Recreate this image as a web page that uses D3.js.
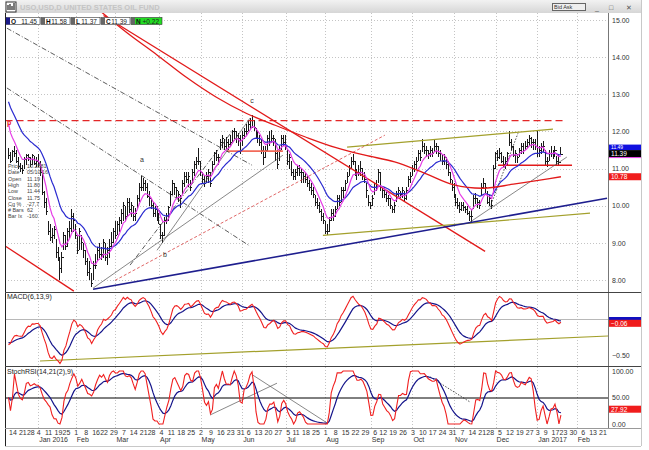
<!DOCTYPE html>
<html>
<head>
<meta charset="utf-8">
<script src="https://cdn.jsdelivr.net/npm/d3@7"></script>
<style>
  body { margin: 0; background: #fff; }
  svg { display: block; font-family: "Liberation Sans", Arial, sans-serif; }
</style>
</head>
<body>
<script>
// USO daily bars, Dec 2015 - Jan 2017, with MAs, MACD and StochRSI panels
const width = 649, height = 450;

// market holidays, to build the trading day calendar
const holidays = ["2015-12-25", "2016-01-01", "2016-01-18", "2016-02-15", "2016-03-25", "2016-05-30",
  "2016-07-04", "2016-09-05", "2016-11-24", "2016-12-26", "2017-01-02", "2017-01-16", "2017-02-20"];

// daily high / low / close, one value per trading day from 2015-12-10
const hi = [
  11.55, 11.45, 11.5, 11.6, 11.5, 11.3, 11.15, 11.1, 11.3, 11.4,
  11.4, 11.3, 11.4, 11.35, 11.3, 11.4, 11.2, 10.85, 10.4, 10.2,
  9.6, 9.5, 9.4, 9.45, 9.1, 8.9, 8.6, 8.75, 9.3, 9.2,
  9.4, 9.6, 9.9, 9.8, 9.5, 9.2, 9.4, 9.2, 9.0, 8.8,
  8.6, 8.5, 8.2, 8.5, 8.7, 8.9, 9.0, 8.9, 9.1, 9.0,
  8.9, 9.1, 9.3, 9.4, 9.6, 9.6, 9.7, 9.9, 10.1, 10.0,
  10.2, 10.2, 10.1, 10.0, 9.95, 10.3, 10.6, 10.8, 10.75, 10.7,
  10.6, 10.4, 10.2, 10.1, 10.0, 10.0, 9.8, 9.5, 9.3, 9.7,
  9.8, 10.0, 10.4, 10.7, 10.6, 10.5, 10.4, 10.3, 10.7, 10.9,
  10.9, 10.9, 10.7, 11.0, 11.2, 11.3, 11.55, 11.2, 10.9, 10.8,
  10.9, 11.0, 10.9, 11.2, 11.45, 11.5, 11.4, 11.8, 11.9, 11.8,
  11.85, 11.8, 11.9, 12.05, 12.1, 12.0, 11.95, 11.9, 12.0, 12.1,
  12.2, 12.3, 12.35, 12.45, 12.3, 12.1, 12.0, 11.9, 11.8, 11.6,
  11.6, 11.9, 12.0, 12.05, 11.9, 11.8, 11.5, 11.6, 11.9, 11.9,
  11.9, 11.5, 11.4, 11.2, 11.0, 11.0, 11.1, 11.1, 11.0, 10.9,
  10.9, 10.8, 10.7, 10.6, 10.5, 10.3, 10.2, 10.1, 9.9, 9.8,
  9.6, 9.5, 9.7, 9.9, 9.9, 10.0, 10.3, 10.3, 10.5, 10.5,
  10.7, 10.9, 11.1, 11.3, 11.4, 11.2, 11.0, 11.1, 11.2, 11.0,
  10.9, 10.6, 10.3, 10.1, 10.3, 10.6, 10.7, 11.0, 10.9, 10.5,
  10.5, 10.4, 10.3, 10.2, 10.0, 10.1, 10.4, 10.5, 10.4, 10.5,
  10.4, 10.5, 10.8, 10.9, 11.1, 11.2, 11.3, 11.5, 11.5, 11.8,
  11.7, 11.6, 11.5, 11.6, 11.55, 11.8, 11.7, 11.6, 11.5, 11.4,
  11.4, 11.3, 11.2, 10.9, 10.7, 10.6, 10.3, 10.2, 10.1, 10.1,
  10.1, 10.0, 10.0, 9.85, 9.9, 10.3, 10.35, 10.2, 10.15, 10.6,
  10.75, 10.6, 10.4, 10.3, 10.15, 11.1, 11.45, 11.5, 11.55, 11.45,
  11.35, 11.3, 11.45, 12.0, 11.8, 11.6, 11.5, 11.4, 11.55, 11.7,
  11.7, 11.75, 11.8, 11.9, 11.85, 11.8, 11.8, 12.05, 11.6, 11.7,
  11.75, 11.5, 11.3, 11.5, 11.6, 11.5, 11.6, 11.35, 11.4, 11.58
];
const lo = [
  11.25, 11.15, 11.2, 11.3, 11.15, 11.0, 10.9, 10.85, 11.0, 11.1,
  11.2, 11.05, 11.1, 11.1, 11.05, 11.05, 10.8, 10.3, 9.95, 9.75,
  9.2, 9.05, 9.0, 9.1, 8.6, 8.5, 8.0, 8.2, 8.8, 8.8,
  8.9, 9.1, 9.3, 9.3, 9.1, 8.7, 8.8, 8.8, 8.6, 8.4,
  8.1, 8.0, 7.8, 8.0, 8.3, 8.5, 8.6, 8.55, 8.6, 8.5,
  8.4, 8.6, 8.9, 9.0, 9.1, 9.2, 9.3, 9.5, 9.6, 9.6,
  9.7, 9.8, 9.7, 9.6, 9.6, 9.9, 10.1, 10.4, 10.4, 10.4,
  10.2, 10.0, 9.9, 9.7, 9.7, 9.6, 9.5, 9.1, 9.0, 9.2,
  9.5, 9.6, 10.0, 10.3, 10.3, 10.2, 10.1, 9.95, 10.3, 10.5,
  10.6, 10.5, 10.4, 10.6, 10.8, 11.0, 11.1, 10.8, 10.6, 10.5,
  10.6, 10.6, 10.5, 10.9, 11.1, 11.2, 11.1, 11.5, 11.55, 11.5,
  11.5, 11.5, 11.6, 11.7, 11.8, 11.7, 11.6, 11.4, 11.6, 11.8,
  11.9, 12.0, 12.05, 12.1, 12.0, 11.8, 11.7, 11.6, 11.4, 11.1,
  11.3, 11.5, 11.6, 11.7, 11.6, 11.2, 11.0, 11.2, 11.5, 11.6,
  11.5, 11.1, 11.0, 10.8, 10.7, 10.7, 10.8, 10.8, 10.6, 10.6,
  10.6, 10.5, 10.4, 10.3, 10.2, 10.0, 9.9, 9.8, 9.6, 9.5,
  9.25, 9.2, 9.3, 9.6, 9.6, 9.7, 9.9, 10.0, 10.1, 10.2,
  10.4, 10.6, 10.8, 11.0, 11.1, 10.8, 10.7, 10.8, 10.8, 10.7,
  10.6, 10.2, 10.0, 9.9, 10.0, 10.3, 10.4, 10.6, 10.4, 10.2,
  10.2, 10.1, 10.0, 9.9, 9.8, 9.8, 10.1, 10.2, 10.2, 10.2,
  10.1, 10.15, 10.5, 10.6, 10.8, 10.9, 11.0, 11.2, 11.2, 11.45,
  11.4, 11.3, 11.25, 11.3, 11.3, 11.45, 11.4, 11.3, 11.2, 11.1,
  11.1, 11.0, 10.8, 10.6, 10.4, 10.2, 10.0, 9.9, 9.8, 9.85,
  9.85, 9.8, 9.75, 9.6, 9.55, 9.9, 10.05, 9.95, 9.9, 10.3,
  10.45, 10.3, 10.05, 10.0, 9.9, 10.4, 11.0, 11.2, 11.25, 11.15,
  11.05, 11.0, 11.1, 11.6, 11.5, 11.3, 11.15, 11.15, 11.3, 11.4,
  11.4, 11.5, 11.55, 11.6, 11.55, 11.5, 11.5, 11.3, 11.3, 11.4,
  11.45, 11.1, 11.05, 11.2, 11.3, 11.25, 11.3, 11.1, 11.1, 11.37
];
const cl = [
  11.35, 11.2, 11.45, 11.4, 11.2, 11.05, 11.0, 10.95, 11.25, 11.35,
  11.3, 11.1, 11.35, 11.15, 11.2, 11.15, 10.9, 10.35, 10.1, 9.85,
  9.3, 9.15, 9.2, 9.35, 8.75, 8.6, 8.3, 8.6, 9.2, 8.9,
  9.3, 9.4, 9.7, 9.6, 9.2, 8.8, 9.3, 9.0, 8.8, 8.5,
  8.2, 8.3, 7.9, 8.4, 8.4, 8.8, 8.7, 8.7, 9.0, 8.6,
  8.8, 8.9, 9.0, 9.3, 9.2, 9.5, 9.6, 9.8, 10.0, 9.7,
  10.1, 9.9, 10.0, 9.7, 9.8, 10.2, 10.5, 10.5, 10.6, 10.5,
  10.25, 10.2, 10.0, 9.8, 9.9, 9.7, 9.5, 9.2, 9.2, 9.6,
  9.6, 9.95, 10.3, 10.6, 10.5, 10.4, 10.3, 10.2, 10.6, 10.8,
  10.7, 10.8, 10.5, 10.9, 11.1, 11.2, 11.2, 10.9, 10.7, 10.6,
  10.8, 10.9, 10.6, 11.1, 11.4, 11.3, 11.3, 11.7, 11.8, 11.6,
  11.7, 11.65, 11.7, 12.0, 12.0, 11.9, 11.8, 11.5, 11.9, 12.0,
  12.0, 12.2, 12.3, 12.4, 12.1, 11.9, 11.8, 11.7, 11.5, 11.3,
  11.5, 11.8, 11.7, 11.8, 11.8, 11.4, 11.1, 11.5, 11.8, 11.7,
  11.6, 11.2, 11.3, 10.9, 10.8, 10.9, 11.0, 10.9, 10.9, 10.8,
  10.7, 10.6, 10.5, 10.4, 10.3, 10.1, 10.0, 9.85, 9.7, 9.6,
  9.3, 9.3, 9.6, 9.8, 9.7, 9.9, 10.2, 10.1, 10.4, 10.4,
  10.6, 10.8, 11.0, 11.2, 11.2, 10.9, 10.9, 10.9, 11.0, 10.8,
  10.7, 10.4, 10.1, 10.0, 10.2, 10.5, 10.5, 10.9, 10.5, 10.4,
  10.3, 10.2, 10.2, 10.0, 9.9, 10.0, 10.3, 10.4, 10.3, 10.4,
  10.2, 10.4, 10.7, 10.8, 11.0, 11.1, 11.2, 11.4, 11.3, 11.6,
  11.5, 11.5, 11.4, 11.5, 11.4, 11.6, 11.6, 11.4, 11.4, 11.2,
  11.3, 11.1, 10.9, 10.7, 10.5, 10.3, 10.1, 10.0, 9.9, 10.0,
  9.95, 9.9, 9.8, 9.7, 9.7, 10.2, 10.2, 10.1, 10.0, 10.5,
  10.6, 10.5, 10.1, 10.2, 10.0, 11.0, 11.4, 11.3, 11.4, 11.2,
  11.1, 11.2, 11.4, 11.7, 11.6, 11.35, 11.4, 11.3, 11.5, 11.6,
  11.5, 11.6, 11.7, 11.8, 11.7, 11.7, 11.6, 11.4, 11.5, 11.6,
  11.6, 11.2, 11.2, 11.4, 11.4, 11.4, 11.5, 11.2, 11.17, 11.39
];

// long (200 day) moving average at these bar numbers
const ma200Bar = [45, 60, 75, 90, 105, 120, 135, 150, 165, 180, 195, 210, 225, 240, 255, 270, 279];
const ma200Val = [15.3, 14.65, 14.06, 13.45, 12.92, 12.49, 12.16, 11.85, 11.57, 11.36, 11.18, 10.88, 10.56, 10.47, 10.58, 10.7, 10.78];

// starting values of the averages (they carry history from before the first bar)
const emaPeriods = [7, 20];          // magenta, blue
const emaStart = [12.5, 12.95];
const macdPeriods = [6, 13, 9];
const macdStart = [11.45, 11.85, -0.32];
const stochPeriods = [14, 21, 2, 9];

// hand drawn lines: [bar, value] ends
const mainLines = [
  { kind: "redDash", a: [-1.5, 12.29], b: [281.6, 12.29] },
  { kind: "red", a: [48, 15.12], b: [240.7, 8.77] },
  { kind: "red", a: [-1.5, 8.91], b: [33, 7.7] },
  { kind: "salmon", a: [110.4, 11.47], b: [138.6, 11.47] },
  { kind: "red", a: [247.2, 11.09], b: [284.6, 11.09] },
  { kind: "redDot", a: [53.8, 7.99], b: [190.1, 11.9] },
  { kind: "olive", a: [158.8, 9.2], b: [293.7, 9.8] },
  { kind: "olive", a: [171, 11.58], b: [275, 12.06] },
  { kind: "navy", a: [42.7, 7.75], b: [302.3, 10.2] },
  { kind: "dashDot", a: [-0.8, 14.78], b: [123, 11.09] },
  { kind: "dashDot", a: [-0.8, 13.17], b: [122, 8.91] },
  { kind: "thin", a: [42.7, 7.78], b: [138.6, 11.36] },
  { kind: "thin", a: [75, 8.8], b: [122, 12.36] },
  { kind: "dashDot", a: [61.4, 8.4], b: [112.9, 12.0] },
  { kind: "thin", a: [233.1, 9.56], b: [282, 11.31] },
  { kind: "dot", a: [243.2, 9.96], b: [257.3, 11.95] }
];
const macdLines = [{ kind: "olive", a: [15.9, -0.583], b: [302.8, -0.236] }];
const stochLines = [
  { kind: "thin", a: [101.8, 17], b: [135.6, 77] },
  { kind: "thin", a: [123.5, 92], b: [160.9, 2] },
  { kind: "dot", a: [212.9, 89], b: [233.1, 41.5] }
];
const waveMarks = [["a", 67.4, 11.17], ["b", 79, 8.61], ["c", 123, 12.76]];

// tick values and right hand labels
const priceTicks = [8, 9, 10, 11, 12, 13, 14, 15];
const macdTicks = [-0.5];
const stochTicks = [0, 50, 100];
const lastValues = { close: 11.39, blueMa: 11.49, ma200: 10.78, macd: -0.06, stoch: 27.92 };
const header = [["O", "11.45"], ["H", "11.58"], ["L", "11.37"], ["C", "11.39"], ["N", "+0.22"]];
const readout = [["Price", "10.2881"], ["Date", "05/10/16"], ["Open", "11.19"], ["High", "11.80"],
  ["Low", "11.44"], ["Close", "11.75"], ["Cg %", "-27.7"], ["# Bars", "62"], ["Bar Ix", "-160"]];

// ---- calendar ----
const hol = new Set(holidays);
const fmtKey = d3.timeFormat("%Y-%m-%d");
const days = d3.timeDay.range(new Date(2015, 11, 10), new Date(2017, 1, 25))
  .filter(d => d.getDay() !== 0 && d.getDay() !== 6 && !hol.has(fmtKey(d)));

// ---- scales ----
const left = 5, plotRight = 608;
const x = d3.scaleLinear().domain([0, days.length - 1]).range([8.5, 8.5 + 1.98 * (days.length - 1)]);
const yMain = d3.scaleLinear().domain([8, 15]).range([280, 20]);
const yMacd = d3.scaleLinear().domain([-0.5, 0]).range([355, 319]);
const yStoch = d3.scaleLinear().domain([0, 100]).range([424, 371]);
const panels = [[13, 292], [292, 366], [366, 428]];

// ---- indicators ----
function ema(v, n, start) {
  const k = 2 / (n + 1);
  let e = start;
  return v.map(d => (e = e + k * (d - e)));
}
function sma(v, n) {
  return v.map((d, i) => d3.mean(v.slice(Math.max(0, i - n + 1), i + 1)));
}
function rsi(c, n) {
  let ag = 0, al = 0;
  return c.map((d, i) => {
    if (i === 0) return 50;
    const ch = d - c[i - 1], g = Math.max(ch, 0), l = Math.max(-ch, 0);
    const m = Math.min(i, n);
    ag = (ag * (m - 1) + g) / m;
    al = (al * (m - 1) + l) / m;
    return al === 0 ? 100 : 100 - 100 / (1 + ag / al);
  });
}
const maFast = ema(cl, emaPeriods[0], emaStart[0]);
const maSlow = ema(cl, emaPeriods[1], emaStart[1]);
const e6 = ema(cl, macdPeriods[0], macdStart[0]);
const e13 = ema(cl, macdPeriods[1], macdStart[1]);
const macd = e6.map((d, i) => d - e13[i]);
const signal = ema(macd, macdPeriods[2], macdStart[2]);
const r = rsi(cl, stochPeriods[0]);
const rawStoch = r.map((d, i) => {
  const w = r.slice(Math.max(0, i - stochPeriods[1] + 1), i + 1);
  const lo_ = d3.min(w), hi_ = d3.max(w);
  return hi_ === lo_ ? 50 : (d - lo_) / (hi_ - lo_) * 100;
});
const stochK = sma(rawStoch, stochPeriods[2]);
const stochD = ema(stochK, stochPeriods[3], stochK[0]);

// ---- svg ----
const svg = d3.select("body").append("svg").attr("width", width).attr("height", height);
const defs = svg.append("defs");
panels.forEach((p, i) => defs.append("clipPath").attr("id", "clip" + i)
  .append("rect").attr("x", left).attr("y", p[0]).attr("width", plotRight - left).attr("height", p[1] - p[0]));
const grad = defs.append("linearGradient").attr("id", "tbar").attr("x1", 0).attr("x2", 0).attr("y1", 0).attr("y2", 1);
grad.append("stop").attr("offset", 0).attr("stop-color", "#f2f2f2");
grad.append("stop").attr("offset", 1).attr("stop-color", "#d6d6d6");

svg.append("rect").attr("x", left).attr("y", 13).attr("width", 636).attr("height", 415).attr("fill", "#fff");

// month starts: grid lines and labels
const monthStarts = d3.range(1, days.length).filter(i => days[i].getMonth() !== days[i - 1].getMonth());
const weekStarts = d3.range(1, days.length).filter(i => +d3.timeMonday.floor(days[i]) !== +d3.timeMonday.floor(days[i - 1]));

const grid = svg.append("g").attr("stroke", "#c4c4c4").attr("stroke-dasharray", "1,2").attr("stroke-width", 1);
grid.selectAll(".v").data(monthStarts).join("line")
  .attr("x1", d => Math.round(x(d)) + 0.5).attr("x2", d => Math.round(x(d)) + 0.5)
  .attr("y1", 13).attr("y2", 428);
grid.selectAll(".hp").data(priceTicks).join("line")
  .attr("x1", left).attr("x2", plotRight).attr("y1", d => Math.round(yMain(d)) + 0.5).attr("y2", d => Math.round(yMain(d)) + 0.5);
svg.append("line").attr("x1", left).attr("x2", plotRight).attr("y1", yMacd(0) + 0.5).attr("y2", yMacd(0) + 0.5)
  .attr("stroke", "#b8b8b8");
svg.append("line").attr("x1", left).attr("x2", plotRight).attr("y1", yStoch(50) + 0.5).attr("y2", yStoch(50) + 0.5)
  .attr("stroke", "#000").attr("stroke-width", 1);

// ---- main panel ----
const main = svg.append("g").attr("clip-path", "url(#clip0)");

const lineStyle = {
  redDash: { stroke: "#e32626", w: 1.3, dash: "7,4" },
  red: { stroke: "#e21a1a", w: 1.3, dash: null },
  salmon: { stroke: "#f26a5a", w: 1.6, dash: null },
  redDot: { stroke: "#d84040", w: 0.8, dash: "3,2" },
  olive: { stroke: "#a3a02c", w: 1.2, dash: null },
  navy: { stroke: "#1e1e8e", w: 1.6, dash: null },
  dashDot: { stroke: "#333", w: 0.8, dash: "5,2,1,2" },
  thin: { stroke: "#555", w: 0.7, dash: null },
  dot: { stroke: "#222", w: 0.8, dash: "1.5,1.5" }
};
function drawLines(g, list, yS) {
  g.selectAll(null).data(list).join("line")
    .attr("x1", d => x(d.a[0])).attr("y1", d => yS(d.a[1]))
    .attr("x2", d => x(d.b[0])).attr("y2", d => yS(d.b[1]))
    .attr("stroke", d => lineStyle[d.kind].stroke)
    .attr("stroke-width", d => lineStyle[d.kind].w)
    .attr("stroke-dasharray", d => lineStyle[d.kind].dash);
}

// price bars
const bars = main.append("g").attr("stroke", "#1a1a1a").attr("shape-rendering", "crispEdges");
bars.selectAll(null).data(cl).join("line")
  .attr("x1", (d, i) => x(i)).attr("x2", (d, i) => x(i))
  .attr("y1", (d, i) => yMain(hi[i])).attr("y2", (d, i) => yMain(lo[i]));
bars.selectAll(null).data(cl).join("line")
  .attr("x1", (d, i) => x(i)).attr("x2", (d, i) => x(i) + 1.6)
  .attr("y1", d => yMain(d)).attr("y2", d => yMain(d));

drawLines(main, mainLines, yMain);

const line = (yS) => d3.line().x((d, i) => x(i)).y(d => yS(d));
main.append("path").datum(maSlow).attr("fill", "none").attr("stroke", "#2a2ad0").attr("stroke-width", 1.2).attr("d", line(yMain));
main.append("path").datum(maFast).attr("fill", "none").attr("stroke", "#e63ce6").attr("stroke-width", 1.2).attr("d", line(yMain));
main.append("path").datum(ma200Bar.map((b, i) => [b, ma200Val[i]]))
  .attr("fill", "none").attr("stroke", "#e21a1a").attr("stroke-width", 1.3)
  .attr("d", d3.line().curve(d3.curveCatmullRom).x(d => x(d[0])).y(d => yMain(d[1])));

main.selectAll(null).data(waveMarks).join("text")
  .attr("x", d => x(d[1])).attr("y", d => yMain(d[2])).attr("text-anchor", "middle")
  .attr("font-size", 7).attr("fill", "#333").text(d => d[0]);
main.append("text").attr("x", 7).attr("y", yMain(12.29) + 4).attr("font-size", 7).attr("font-weight", "bold")
  .attr("fill", "#e32626").text("p");

// readout text
const ro = main.append("g").attr("font-size", 5.4).attr("fill", "#444");
ro.selectAll(null).data(readout).join("text")
  .attr("x", 8).attr("y", (d, i) => 168 + i * 6.3).text(d => d[0]);
ro.selectAll(null).data(readout).join("text")
  .attr("x", 27).attr("y", (d, i) => 168 + i * 6.3).text(d => d[1]);

// ---- MACD panel ----
const mg = svg.append("g").attr("clip-path", "url(#clip1)");
drawLines(mg, macdLines, yMacd);
mg.append("path").datum(signal).attr("fill", "none").attr("stroke", "#14148a").attr("stroke-width", 1.2).attr("d", line(yMacd));
mg.append("path").datum(macd).attr("fill", "none").attr("stroke", "#f02020").attr("stroke-width", 1.1).attr("d", line(yMacd));
svg.append("text").attr("x", 7).attr("y", 299).attr("font-size", 7).attr("fill", "#222").text("MACD(6,13,9)");

// ---- StochRSI panel ----
const sg = svg.append("g").attr("clip-path", "url(#clip2)");
drawLines(sg, stochLines, yStoch);
sg.append("path").datum(stochD).attr("fill", "none").attr("stroke", "#14148a").attr("stroke-width", 1.2).attr("d", line(yStoch));
sg.append("path").datum(stochK).attr("fill", "none").attr("stroke", "#f02020").attr("stroke-width", 1.1).attr("d", line(yStoch));
svg.append("text").attr("x", 7).attr("y", 374).attr("font-size", 7).attr("fill", "#222").text("StochRSI(14,21(2),9)");

// ---- frame lines ----
const frame = svg.append("g").attr("stroke", "#222").attr("shape-rendering", "crispEdges");
frame.append("line").attr("x1", left).attr("x2", left).attr("y1", 0).attr("y2", 446);
frame.append("line").attr("x1", plotRight).attr("x2", plotRight).attr("y1", 13).attr("y2", 428).attr("stroke", "#777");
[292, 366].forEach(yv => frame.append("line").attr("x1", left).attr("x2", 641).attr("y1", yv).attr("y2", yv).attr("stroke", "#444"));
frame.append("line").attr("x1", left).attr("x2", 641).attr("y1", 428).attr("y2", 428).attr("stroke", "#999");
frame.append("line").attr("x1", 641).attr("x2", 641).attr("y1", 0).attr("y2", 446).attr("stroke", "#c8c8c8");
frame.append("line").attr("x1", left).attr("x2", 641).attr("y1", 446).attr("y2", 446).attr("stroke", "#c8c8c8");

// ---- right axes ----
const axisFont = g => g.call(g => g.select(".domain").remove())
  .call(g => g.selectAll("text").attr("font-size", 7).attr("fill", "#333").attr("font-family", "Liberation Sans, Arial, sans-serif"));
svg.append("g").attr("transform", `translate(${plotRight + 1},0)`)
  .call(d3.axisRight(yMain).tickValues(priceTicks).tickFormat(d3.format(".2f")).tickSize(0).tickPadding(3)).call(axisFont);
svg.append("g").attr("transform", `translate(${plotRight + 1},0)`)
  .call(d3.axisRight(yMacd).tickValues(macdTicks).tickFormat(d3.format(".2f")).tickSize(0).tickPadding(3)).call(axisFont);
svg.append("g").attr("transform", `translate(${plotRight + 1},0)`)
  .call(d3.axisRight(yStoch).tickValues(stochTicks).tickFormat(d3.format(".2f")).tickSize(0).tickPadding(3)).call(axisFont);

// value boxes
function valueBox(top, h, fill, txt, color, fs) {
  svg.append("rect").attr("x", plotRight + 1).attr("y", top).attr("width", 32).attr("height", h).attr("fill", fill);
  svg.append("text").attr("x", plotRight + 3).attr("y", top + h - 1).attr("font-size", fs).attr("fill", color).text(txt);
}
const yClose = yMain(lastValues.close);
valueBox(yClose - 9.5, 5.5, "#1010e0", d3.format(".2f")(lastValues.blueMa), "#fff", 5);
valueBox(yClose - 4, 7, "#000", d3.format(".2f")(lastValues.close), "#fff", 6.5);
svg.append("line").attr("x1", plotRight + 1).attr("x2", plotRight + 33).attr("y1", yClose + 3.5).attr("y2", yClose + 3.5)
  .attr("stroke", "#e63ce6");
valueBox(yMain(lastValues.ma200) - 3.5, 7, "#f01c1c", d3.format(".2f")(lastValues.ma200), "#fff", 6.5);
svg.append("rect").attr("x", plotRight + 1).attr("y", yMacd(0) - 2).attr("width", 32).attr("height", 3).attr("fill", "#1010c0");
valueBox(yMacd(lastValues.macd) - 3.5, 7, "#f01c1c", d3.format(".2f")(lastValues.macd), "#fff", 6.5);
valueBox(yStoch(lastValues.stoch) - 3.5, 7, "#f01c1c", d3.format(".2f")(lastValues.stoch), "#fff", 6.5);

// ---- bottom date axis ----
svg.append("g").attr("transform", "translate(0,428)")
  .call(d3.axisBottom(x).tickValues(weekStarts).tickFormat(i => d3.timeFormat("%-d")(days[i])).tickSize(0).tickPadding(2))
  .call(axisFont);
svg.append("g").selectAll("text").data(monthStarts).join("text")
  .attr("x", d => x(d) + 1).attr("y", 442).attr("font-size", 7).attr("fill", "#333")
  .text(d => days[d].getMonth() === 0 ? d3.timeFormat("%b %Y")(days[d]) : d3.timeFormat("%b")(days[d]));

// ---- title bar ----
svg.append("rect").attr("x", left).attr("y", 0).attr("width", 636).attr("height", 13).attr("fill", "url(#tbar)");
svg.append("rect").attr("x", 6).attr("y", 2).attr("width", 10).attr("height", 10).attr("fill", "#fff").attr("stroke", "#333");
svg.append("path").attr("d", "M8,10V5M10,10V4M12,10V6M14,10V3").attr("stroke", "#222").attr("stroke-width", 1.2);
svg.append("text").attr("x", 20).attr("y", 9.5).attr("font-size", 7.5).attr("font-weight", "bold").attr("fill", "#c4c4c4")
  .text("USO,USD,D   UNITED STATES OIL FUND");
svg.append("rect").attr("x", 552.5).attr("y", 3.5).attr("width", 33).attr("height", 7).attr("fill", "#eee").attr("stroke", "#666");
svg.append("text").attr("x", 554).attr("y", 9).attr("font-size", 5.5).attr("fill", "#333").text("Bid Ask");
[["_", 595], ["\u25A1", 609], ["\u2715", 626]].forEach(b => svg.append("text").attr("x", b[1]).attr("y", 10)
  .attr("font-size", 7).attr("fill", "#555").text(b[0]));

// header quote fields
const hdr = svg.append("g").attr("font-size", 6.5);
const cellX = [6, 41, 71, 101, 131], cellEnd = [40, 70, 100, 130, 162];
header.forEach((h, i) => {
  hdr.append("rect").attr("x", cellX[i]).attr("y", 17.5).attr("width", cellEnd[i] - cellX[i]).attr("height", 7)
    .attr("fill", i === 4 ? "#22dd22" : "#fff").attr("stroke", "#333").attr("stroke-width", 0.6);
  hdr.append("rect").attr("x", cellX[i]).attr("y", 17.5).attr("width", 4).attr("height", 7).attr("fill", i === 0 ? "#1a1a8a" : "#666");
  hdr.append("text").attr("x", cellX[i] + 5).attr("y", 23.5).attr("font-weight", "bold").attr("fill", "#111").text(h[0]);
  hdr.append("text").attr("x", cellEnd[i] - 3).attr("y", 23.5).attr("text-anchor", "end").attr("fill", "#222").text(h[1]);
});
</script>
</body>
</html>
